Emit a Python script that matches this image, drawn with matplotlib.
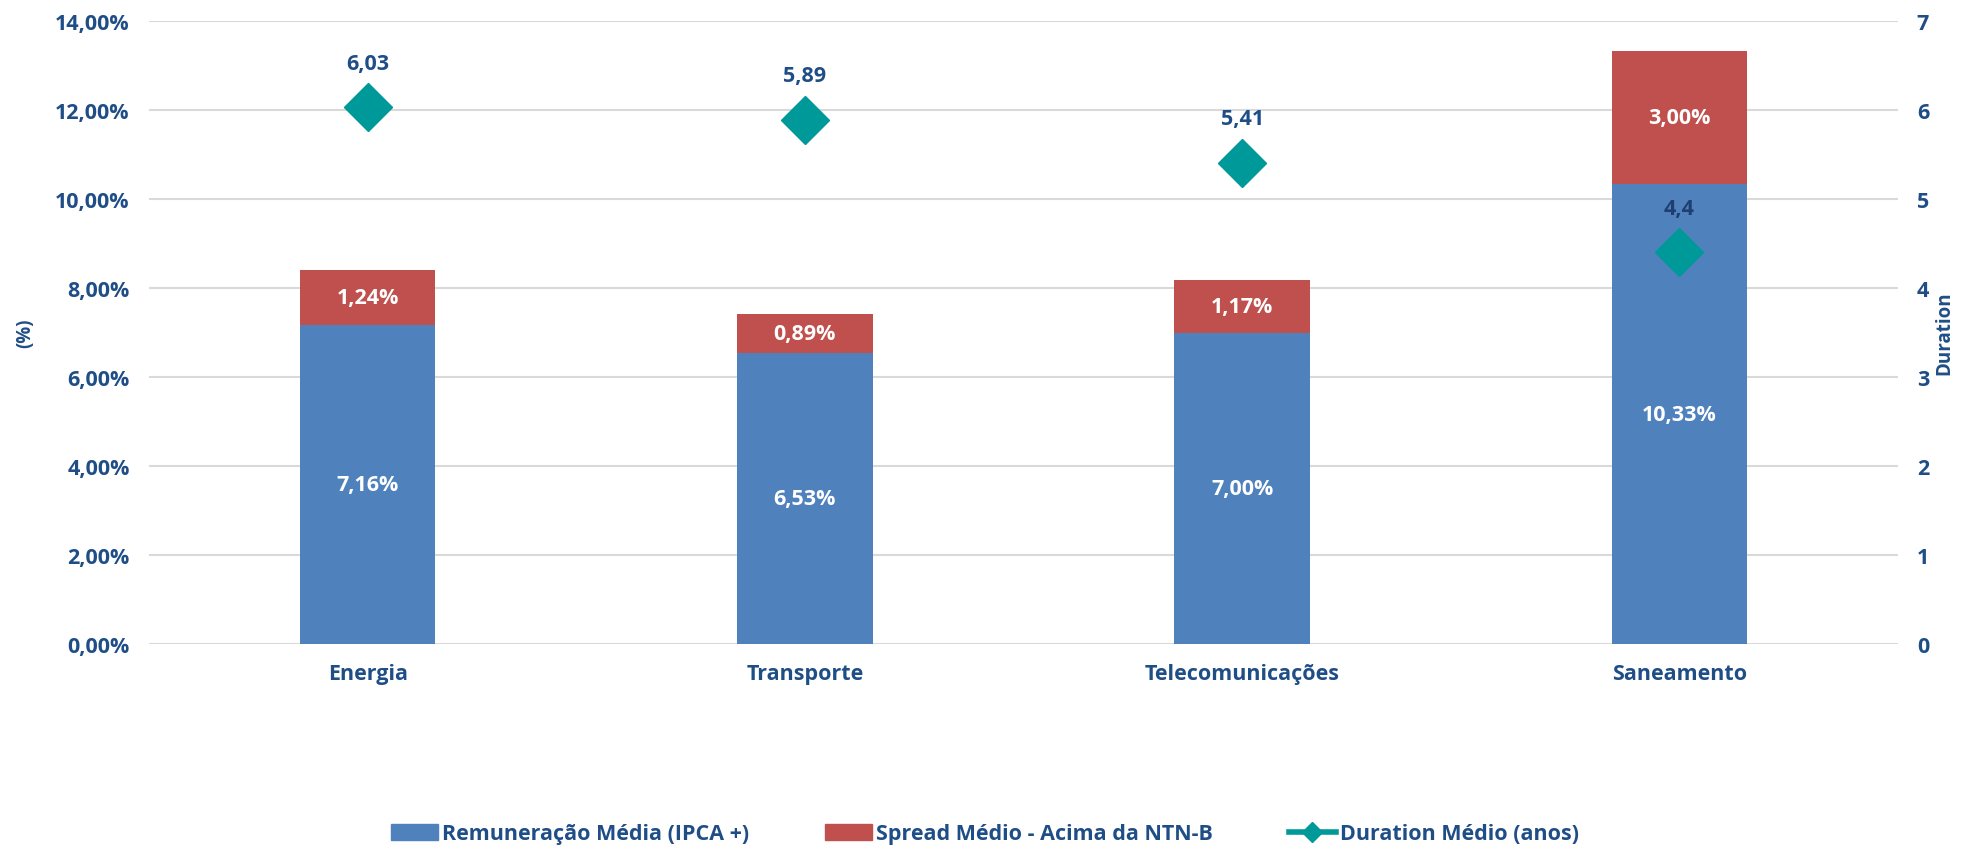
import matplotlib
matplotlib.use('Agg')
import matplotlib.pyplot as plt
from matplotlib.lines import Line2D
from matplotlib.patches import Patch
import numpy as np

plt.rcParams['font.family'] = ['Open Sans', 'DejaVu Sans']
plt.rcParams['font.weight'] = 'bold'

categories = ['Energia', 'Transporte', 'Telecomunicações', 'Saneamento']
remuneracao = [7.16, 6.53, 7.00, 10.33]     # %
spread = [1.24, 0.89, 1.17, 3.00]           # %
duration = [6.03, 5.89, 5.41, 4.4]          # anos
duration_labels = ['6,03', '5,89', '5,41', '4,4']

navy = '#1F4E87'
blue = '#4F81BD'
red = '#C0504D'
teal = '#009999'


def pct(v):
    return ('%.2f%%' % v).replace('.', ',')


fig = plt.figure(figsize=(19.70, 8.53), dpi=100)
ax = fig.add_axes([149 / 1970, 1 - 645 / 853, (1898 - 149) / 1970, (645 - 22) / 853])
ax2 = ax.twinx()

x = np.arange(len(categories))
w = 0.31
ax.bar(x, remuneracao, w, color=blue, zorder=2)
ax.bar(x, spread, w, bottom=remuneracao, color=red, zorder=2)

for xi, r, s in zip(x, remuneracao, spread):
    ax.text(xi, r / 2, pct(r), ha='center', va='center', color='white',
            fontsize=15.5, fontweight='bold', zorder=3)
    ax.text(xi, r + s / 2, pct(s), ha='center', va='center', color='white',
            fontsize=15.5, fontweight='bold', zorder=3)

ax2.plot(x, duration, linestyle='none', marker='D', color=teal, ms=24, zorder=4)
for xi, d, lab in zip(x, duration, duration_labels):
    ax2.annotate(lab, (xi, d), xytext=(0, 24), textcoords='offset points',
                 ha='center', va='bottom', color=navy if d > 5 else '#1F3F70',
                 fontsize=15.5, fontweight='bold')

ax.set_xlim(-0.5, 3.5)
ax.set_ylim(0, 14)
ax2.set_ylim(0, 7)
ax.set_yticks(np.arange(0, 14.1, 2))
ax.set_yticklabels([pct(v) for v in np.arange(0, 14.1, 2)])
ax2.set_yticks(range(8))
ax.set_xticks(x)
ax.set_xticklabels(categories)

ax.yaxis.grid(True, color='#D9D9D9', linewidth=1.5, zorder=0)
ax.set_axisbelow(True)
for a in (ax, ax2):
    for sp in a.spines.values():
        sp.set_visible(False)
    a.tick_params(length=0, labelsize=15.5, labelcolor=navy)
ax.tick_params(axis='y', pad=14)
ax.tick_params(axis='x', pad=14)
ax2.tick_params(axis='y', pad=18)
for t in ax.get_xticklabels() + ax.get_yticklabels() + ax2.get_yticklabels():
    t.set_fontweight('bold')
    t.set_horizontalalignment('center') if t in ax2.get_yticklabels() else None

ax.set_ylabel('(%)', color=navy, fontsize=13.5, fontweight='bold', labelpad=14)
ax2.set_ylabel('Duration', color=navy, fontsize=13.5, fontweight='bold', labelpad=4)

handles = [Patch(color=blue), Patch(color=red),
           Line2D([0], [0], color=teal, lw=4, marker='D', ms=10)]
labels = ['Remuneração Média (IPCA +)', 'Spread Médio - Acima da NTN-B',
          'Duration Médio (anos)']
leg = fig.legend(handles, labels, loc='center', bbox_to_anchor=(0.5, 1 - 835 / 853),
                 ncol=3, frameon=False, fontsize=15.5, handlelength=2.2,
                 handletextpad=0.2, columnspacing=3.5)
for t in leg.get_texts():
    t.set_color(navy)
    t.set_fontweight('bold')

fig.savefig('out.png', dpi=100)
